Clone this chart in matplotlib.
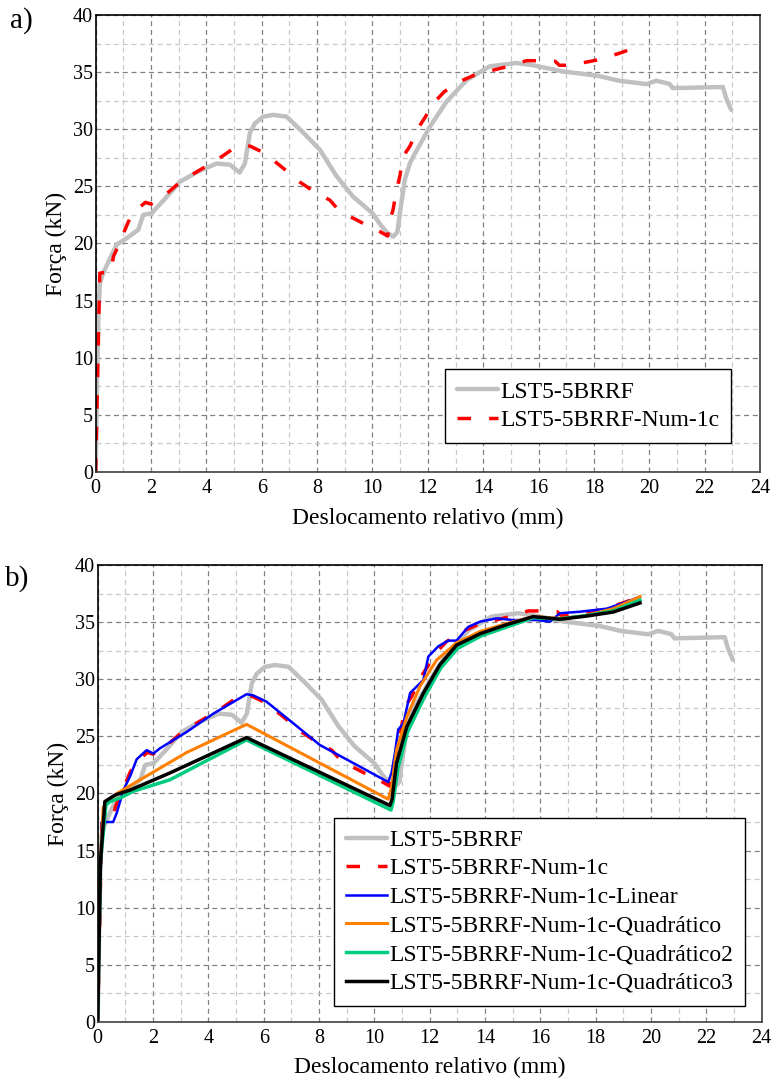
import matplotlib
matplotlib.use("Agg")
import matplotlib.pyplot as plt
from matplotlib.ticker import MultipleLocator

plt.rcParams['font.family'] = ['Liberation Serif', 'DejaVu Serif']
plt.rcParams['mathtext.fontset'] = 'stix'

# Experimental curve LST5-5BRRF
exp_x = [0, 0.05, 0.1, 0.15, 0.27, 0.5, 0.76, 1.12, 1.54, 1.62, 1.72, 2.02, 2.5, 3.04, 3.7,
         4.37, 4.85, 5.2, 5.39, 5.57, 5.75, 6.05, 6.41, 6.9, 7.5, 8.1, 8.7, 9.3, 10.0, 10.3,
         10.55, 10.75, 10.9, 10.99, 11.17, 11.35, 11.47, 12.07, 12.67, 13.4, 14.23, 15.2,
         15.8, 16.9, 18.1, 18.9, 19.9, 20.25, 20.73, 20.85, 22.66, 22.78, 22.96]
exp_y = [0, 8, 14, 16.5, 17.4, 18.6, 19.9, 20.46, 21.2, 21.8, 22.5, 22.65, 23.9, 25.4, 26.3,
         27.0, 26.9, 26.2, 27.0, 29.65, 30.5, 31.1, 31.26, 31.1, 29.7, 28.2, 25.9, 24.1, 22.65, 21.6,
         20.9, 20.6, 21.0, 22.65, 25.6, 27.0, 27.6, 30.2, 32.4, 34.3, 35.5, 35.8,
         35.6, 35.05, 34.7, 34.25, 33.95, 34.25, 33.97, 33.6, 33.7, 32.7, 31.7]

# Numerical model LST5-5BRRF-Num-1c
num_x = [0, 0.05, 0.1, 0.15, 0.3, 0.55, 0.64, 0.8, 1.18, 1.36, 1.6, 1.8, 2.0, 2.44, 2.92, 3.4,
         3.88, 4.37, 4.97, 5.45, 5.6, 6.11, 6.41, 7.0, 7.36, 7.98, 8.46, 8.82, 9.42, 10.02, 10.3,
         10.55, 10.62, 10.74, 10.87, 10.99, 11.1, 11.35, 11.65, 11.89, 12.25, 12.6, 13.27, 13.7,
         14.4, 14.9, 15.56, 15.98, 16.6, 16.75, 17.1, 17.78, 18.2, 18.93, 19.45]
num_y = [0, 6, 12, 17.4, 17.45, 17.45, 18.85, 19.7, 21.9, 22.65, 23.2, 23.6, 23.45, 24.1, 25.1, 25.9,
         26.6, 27.3, 28.3, 28.6, 28.5, 27.9, 27.3, 26.15, 25.4, 24.4, 23.8, 22.8, 22.07, 21.3, 21.0,
         20.65, 22.0, 22.9, 24.7, 25.9, 27.6, 28.5, 30.1, 31.0, 32.4, 33.3, 34.3, 34.76,
         35.2, 35.5, 36.0, 36.0, 35.95, 35.6, 35.6, 35.9, 36.1, 36.66, 37.1]

# LST5-5BRRF-Num-1c-Linear
lin_x = [0, 0.1, 0.15, 0.26, 0.56, 0.69, 0.81, 0.93, 1.17, 1.41, 1.77, 2.01, 2.25, 3.22, 4.18,
         5.38, 5.62, 6.1, 7.07, 8.03, 9.48, 10.5, 10.62, 10.74, 10.86, 11.05, 11.29, 11.77, 11.95,
         12.31, 12.67, 12.97, 13.39, 13.82, 14.42, 15.02, 15.87, 16.35, 16.71, 17.43, 18.4,
         19.12, 19.6]
lin_y = [0, 12, 17.5, 17.5, 17.5, 18.3, 19.3, 20.3, 21.5, 23.0, 23.8, 23.5, 23.96, 25.4, 27.0,
         28.7, 28.6, 28.05, 26.15, 24.25, 22.35, 21.0, 21.8, 23.5, 25.6, 26.15, 28.8, 29.95, 32.0,
         32.9, 33.4, 33.4, 34.6, 35.06, 35.35, 35.2, 35.2, 35.06, 35.8, 35.93, 36.2,
         36.8, 37.25]

# LST5-5BRRF-Num-1c-Quadratico
quad_x = [0, 0.1, 0.2, 0.44, 0.69, 3.22, 5.38, 10.5, 10.62, 10.8, 11.17, 11.65, 12.25,
          12.97, 13.82, 14.78, 15.74, 16.71, 17.67, 18.63, 19.6]
quad_y = [0, 14, 18.8, 19.4, 20.0, 23.6, 26.06, 19.5, 20.5, 23.8, 26.7, 29.4, 31.7,
          33.2, 34.2, 34.9, 35.5, 35.35, 35.6, 36.2, 37.25]

# LST5-5BRRF-Num-1c-Quadratico2
quad2_x = [0, 0.1, 0.3, 0.45, 0.81, 1.29, 2.61, 5.38, 10.6, 10.68, 10.85, 11.2, 11.8, 12.4,
           13.0, 13.85, 14.8, 15.74, 16.71, 17.67, 18.63, 19.6]
quad2_y = [0, 14, 19.0, 19.3, 19.6, 20.2, 21.2, 24.7, 18.55, 19.3, 22.2, 25.4, 28.4, 31.0,
           32.7, 33.8, 34.6, 35.4, 35.3, 35.6, 36.0, 36.95]

# LST5-5BRRF-Num-1c-Quadratico3
quad3_x = [0, 0.1, 0.26, 0.63, 1.17, 2.61, 5.38, 10.56, 10.64, 10.8, 11.17, 11.77, 12.37,
           12.97, 13.82, 14.78, 15.74, 16.71, 17.67, 18.63, 19.6]
quad3_y = [0, 14, 19.3, 19.87, 20.3, 21.8, 24.9, 18.95, 19.5, 22.65, 25.85, 28.8, 31.3,
           33.0, 34.0, 34.8, 35.5, 35.27, 35.55, 35.9, 36.7]

labels = ['LST5-5BRRF', 'LST5-5BRRF-Num-1c', 'LST5-5BRRF-Num-1c-Linear',
          'LST5-5BRRF-Num-1c-Quadrático', 'LST5-5BRRF-Num-1c-Quadrático2',
          'LST5-5BRRF-Num-1c-Quadrático3']

GRAY = '#c0c0c0'
RED_DASH = (0, (3.9, 5.2))

fig = plt.figure(figsize=(7.71, 10.79), dpi=100)
ax_a = fig.add_axes([0.1241, 0.5626, 0.8616, 0.4235])
ax_b = fig.add_axes([0.1267, 0.0531, 0.8613, 0.4230])


def style_axes(ax):
    ax.set_xlim(0, 24)
    ax.set_ylim(0, 40)
    ax.xaxis.set_major_locator(MultipleLocator(2))
    ax.xaxis.set_minor_locator(MultipleLocator(1))
    ax.yaxis.set_major_locator(MultipleLocator(5))
    ax.yaxis.set_minor_locator(MultipleLocator(2.5))
    ax.grid(which='major', color='#808080', linestyle=(0, (4, 3)), linewidth=0.9)
    ax.grid(which='minor', color='#c8c8c8', linestyle=(0, (4, 3)), linewidth=0.9)
    ax.set_axisbelow(True)
    ax.tick_params(which='both', length=0, labelsize=14.5)
    ax.tick_params(axis='x', pad=5)
    ax.tick_params(axis='y', pad=2)
    for side in ['top', 'left']:
        ax.spines[side].set_color('black')
    for side in ['right', 'bottom']:
        ax.spines[side].set_color('#404040')
    for s in ax.spines.values():
        s.set_linewidth(1.2)
    ax.set_xlabel('Deslocamento relativo (mm)', fontsize=17, labelpad=7)
    ax.set_ylabel('Força (kN)', fontsize=17, labelpad=4)


legend_kw = dict(loc='lower right', borderaxespad=0, fontsize=17, frameon=True,
                 fancybox=False, edgecolor='black', framealpha=1, handlelength=1.75,
                 handletextpad=0.1, borderpad=0.5, labelspacing=0.3)

# Panel a
style_axes(ax_a)
ax_a.plot(exp_x, exp_y, color=GRAY, lw=3.2, solid_capstyle='round', label=labels[0])
ax_a.plot(num_x, num_y, color='red', lw=2.5, linestyle=RED_DASH, label=labels[1])
leg_a = ax_a.legend(bbox_to_anchor=(0.957, 0.063), **legend_kw)
leg_a.get_frame().set_linewidth(1.0)
fig.text(0.013, 0.981, 'a)', fontsize=21, ha='left', va='center')

# Panel b
style_axes(ax_b)
ax_b.plot(exp_x, exp_y, color=GRAY, lw=3.2, solid_capstyle='round', label=labels[0])
ax_b.plot(num_x, num_y, color='red', lw=2.5, linestyle=RED_DASH, label=labels[1])
ax_b.plot(lin_x, lin_y, color='#0000ff', lw=1.8, label=labels[2])
ax_b.plot(quad_x, quad_y, color='#ff8000', lw=2.2, label=labels[3])
ax_b.plot(quad2_x, quad2_y, color='#00cc80', lw=2.5, label=labels[4])
ax_b.plot(quad3_x, quad3_y, color='black', lw=2.5, label=labels[5])
leg_b = ax_b.legend(bbox_to_anchor=(0.975, 0.035), **legend_kw)
leg_b.get_frame().set_linewidth(1.0)
fig.text(0.006, 0.464, 'b)', fontsize=21, ha='left', va='center')

fig.savefig('out.png', dpi=100)
